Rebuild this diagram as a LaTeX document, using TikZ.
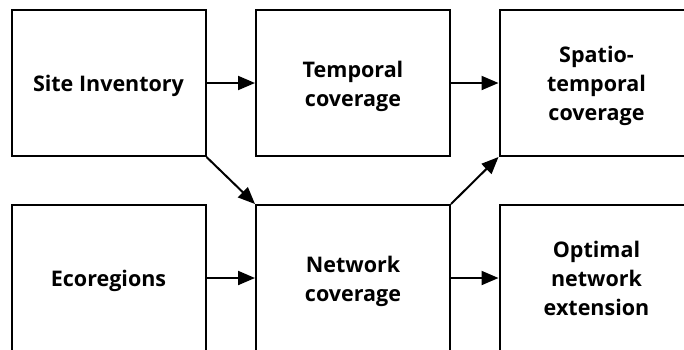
\documentclass[tikz,border=0pt]{standalone}
\usepackage{fontspec}
\setmainfont{Open Sans}
\usetikzlibrary{arrows.meta}
\newcommand{\boxtext}[1]{\raisebox{-3pt}[\height][\depth]{\begin{tabular}{@{}c@{}}#1\end{tabular}}}
\begin{document}
\begin{tikzpicture}[x=1pt,y=-1pt,
  box/.style={draw=black, line width=2pt, minimum width=194pt, minimum height=146pt, inner sep=0pt, font=\fontsize{21.5}{29}\selectfont\bfseries, text=black},
  arr/.style={line width=2pt, -{Triangle[length=17pt,width=14pt]}}]
\useasboundingbox (0,0) rectangle (684,349);
\clip (0,0) rectangle (684,349);
\fill[white] (0,0) rectangle (684,349);
\node[box] (site) at (108.5,83) {\boxtext{Site Inventory}};
\node[box] (temp) at (353,83) {\boxtext{Temporal\\coverage}};
\node[box] (spat) at (596.5,83) {\boxtext{Spatio-\\temporal\\coverage}};
\node[box] (eco) at (108.5,278) {\boxtext{Ecoregions}};
\node[box] (net) at (353,278) {\boxtext{Network\\coverage}};
\node[box] (opt) at (596.5,278) {\boxtext{Optimal\\network\\extension}};
\draw[arr] (site.east) -- (temp.west);
\draw[arr] (temp.east) -- (spat.west);
\draw[arr] (eco.east) -- (net.west);
\draw[arr] (net.east) -- (opt.west);
\draw[arr] (site.south east) -- (net.north west);
\draw[arr] (net.north east) -- (spat.south west);
\end{tikzpicture}
\end{document}
